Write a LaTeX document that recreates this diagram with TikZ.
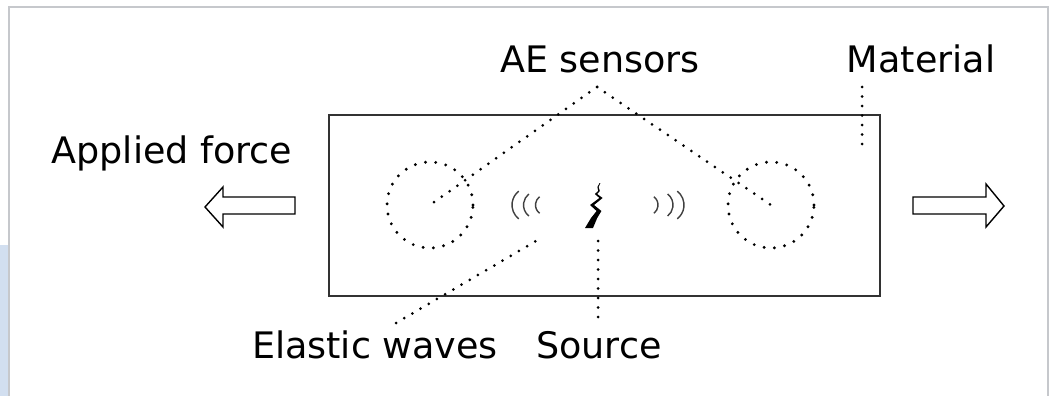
\documentclass[tikz,border=0pt]{standalone}
\usepackage{fontspec}
\setmainfont{DejaVu Sans}
\definecolor{framegray}{RGB}{198,200,204}
\definecolor{sidebl}{RGB}{210,223,240}
\definecolor{linegray}{RGB}{50,50,50}
\begin{document}
\begin{tikzpicture}[x=1pt,y=-1pt,
  lbl/.style={font=\fontsize{36.5}{40}\selectfont, anchor=base, inner sep=0pt},
  dotline/.style={line width=3pt, dash pattern=on 0pt off 9.5pt, line cap=round, draw=black},
  sensor/.style={circle, minimum size=86pt, inner sep=0pt, draw=black, line width=3.2pt, dash pattern=on 0pt off 10.3pt, line cap=round},
  wave/.style={draw=black!75, line width=1.4pt},
  forcearrow/.style={draw=black, line width=1.4pt, fill=white, line join=miter}
]
\useasboundingbox (0,0) rectangle (1050,396);
\fill[white] (0,0) rectangle (1050,396);
\fill[sidebl] (0,245) rectangle (8,396);
\draw[framegray, line width=2pt] (9,396) -- (9,7) -- (1048,7) -- (1048,396);

% material block
\node[draw=linegray, line width=1.8pt, minimum width=551pt, minimum height=181pt, inner sep=0pt] (block) at (604.5,205.5) {};

% sensors
\node[sensor] (s1) at (430,205) {};
\node[sensor] (s2) at (771,205) {};

% labels
\node[lbl] (ae) at (600,73) {AE sensors};
\node[lbl] (mat) at (921,73) {Material};
\node[lbl] (force) at (172,163) {Applied force};
\node[lbl] (elastic) at (375,358) {Elastic waves};
\node[lbl] (source) at (599,358) {Source};

% leader coordinates
\coordinate (apex) at (597,87);
\coordinate (mtop) at (862,87);
\coordinate (mbot) at (862,153);
\coordinate (ewA) at (396,323);
\coordinate (ewB) at (536,241);
\coordinate (srcA) at (598,241);
\coordinate (srcB) at (598,318);

\draw[dotline] (apex) -- (s1.center);
\draw[dotline] (apex) -- (s2.center);
\draw[dotline] (mtop) -- (mbot);
\draw[dotline] (ewA) -- (ewB);
\draw[dotline] (srcA) -- (srcB);

% force arrows
\draw[forcearrow] (205,207) -- (223,187) -- (223,197) -- (295,197) -- (295,214) -- (223,214) -- (223,227) -- cycle;
\draw[forcearrow] (1004,206) -- (986,184) -- (986,197) -- (913,197) -- (913,214) -- (986,214) -- (986,227) -- cycle;

% elastic waves
\draw[wave] ([shift={(128:17.5)}]529.5,205) arc[start angle=128, end angle=232, radius=17.5];
\draw[wave] ([shift={(128:14)}]537.5,205) arc[start angle=128, end angle=232, radius=14];
\draw[wave] ([shift={(128:10.5)}]546,205) arc[start angle=128, end angle=232, radius=10.5];
\draw[wave] ([shift={(-52:17.5)}]666.5,205) arc[start angle=-52, end angle=52, radius=17.5];
\draw[wave] ([shift={(-52:14)}]659,205) arc[start angle=-52, end angle=52, radius=14];
\draw[wave] ([shift={(-52:10.5)}]647.5,205) arc[start angle=-52, end angle=52, radius=10.5];

% crack (source)
\fill[black] (600.4,183) -- (598.6,187) -- (599.8,191) -- (597.2,194) -- (602.6,198) -- (594.0,205) -- (601.4,211) -- (597.2,218) -- (593.0,228)
  -- (585.0,228) -- (591.0,218) -- (596.6,211) -- (590.0,205) -- (599.4,198) -- (594.8,194) -- (598.2,191) -- (597.4,187) -- (599.6,183) -- cycle;
\end{tikzpicture}
\end{document}
